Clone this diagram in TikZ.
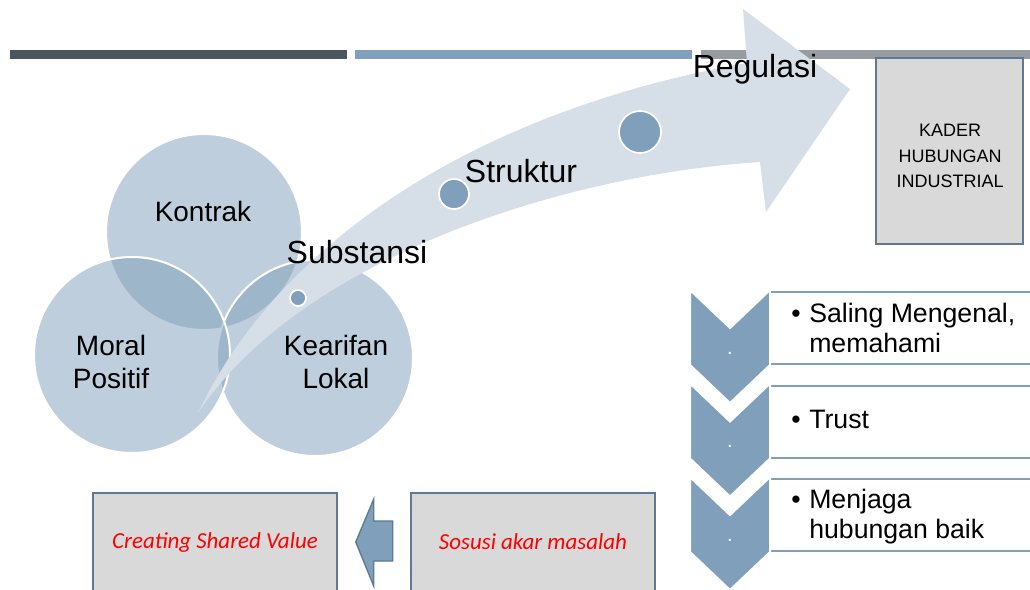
\documentclass[tikz,border=0pt]{standalone}
\usepackage{fontspec}
\setmainfont{Liberation Sans}
\newfontfamily\calfont{Carlito}
\usepackage{xcolor}
\definecolor{slate}{HTML}{7F9FBA}
\definecolor{slatedark}{HTML}{5F7A90}
\definecolor{bardark}{HTML}{4A575E}
\definecolor{bargray}{HTML}{979CA3}
\definecolor{arrowfill}{HTML}{D6DEE7}
\definecolor{boxgray}{HTML}{D9D9D9}

\begin{document}
\begin{tikzpicture}[x=0.75pt,y=-0.75pt,line join=miter,
  venn/.style={circle,minimum size=147pt,inner sep=0pt,fill=slate,fill opacity=0.5,draw=white,line width=1.5pt},
  vennlabel/.style={font=\fontsize{21}{25}\selectfont,align=center,inner sep=0pt},
  biglabel/.style={font=\fontsize{24}{28}\selectfont,inner sep=0pt},
  dot/.style={circle,inner sep=0pt,fill=slate,draw=white,line width=1.3pt},
  graybox/.style={rectangle,fill=boxgray,draw=slatedark,line width=1.1pt,inner sep=0pt},
  redtext/.style={font=\calfont\itshape\fontsize{17.2}{20}\selectfont,text=red},
  chevron/.style={fill=slate,draw=white,line width=1.5pt},
  listbox/.style={fill=white,draw=slate,line width=1.5pt},
  listtext/.style={font=\fontsize{20}{22.5}\selectfont,anchor=west,inner sep=0pt}]
\useasboundingbox (0,0) rectangle (1030,589);
\fill[white] (0,0) rectangle (1030,589);
% header bars
\fill[bardark] (10,50) rectangle (347,59);
\fill[slate] (355,50) rectangle (692,59);
\fill[bargray] (701,50) rectangle (1035,59);
% circles
\node[venn] (kontrak) at (204,232) {};
\node[venn] (kearifan) at (315,358) {};
\node[venn] (moral) at (132,355) {};
\node[vennlabel,anchor=base] (kontraktxt) at (203,221) {Kontrak};
\node[vennlabel] (moraltxt) at (111,362) {Moral\\Positif};
\node[vennlabel] (kearifantxt) at (336,362) {Kearifan\\Lokal};
% curved arrow
\fill[arrowfill] (198,413) .. controls (280,240) and (480,110) .. (747,63) -- (743,9) -- (850,89)
  -- (766,212) -- (760,162) .. controls (560,175) and (300,260) .. (198,413) -- cycle;
\node[dot,minimum size=12pt] (dsub) at (298,298) {};
\node[dot,minimum size=22.5pt] (dstr) at (454,194) {};
\node[dot,minimum size=31.5pt] (dreg) at (640,132) {};
\node[biglabel,anchor=base] (substansi) at (357,263) {Substansi};
\node[biglabel,anchor=base] (struktur) at (521,182) {Struktur};
\node[biglabel,anchor=base] (regulasi) at (755,77) {Regulasi};
% kader box
\node[graybox,minimum width=110pt,minimum height=139.5pt] (kader) at (949.5,151) {};
\node[align=center,inner sep=0pt,font=\fontsize{13.5}{19}\selectfont] (kadertxt) at (950,156) {KADER\\HUBUNGAN\\INDUSTRIAL};
% chevron list
\foreach \t in {290,383.5,477}{
  \draw[listbox] (770,\t+2) rectangle (1040,\t+74);
  \draw[chevron] (690,\t) -- (730,\t+38) -- (770,\t) -- (770,\t+75) -- (730,\t+113) -- (690,\t+75) -- cycle;
  \node[text=white,font=\fontsize{15}{17}\selectfont,anchor=base,inner sep=0pt] (pt\t) at (730,\t+64) {.};
}
\node[listtext] (item1) at (791,331) {\begin{tabular}{@{}l@{\hspace{6.5pt}}l@{}}\textbullet & Saling Mengenal,\\ & memahami\end{tabular}};
\node[listtext] (item2) at (791,422) {\begin{tabular}{@{}l@{\hspace{6.5pt}}l@{}}\textbullet & Trust\end{tabular}};
\node[listtext] (item3) at (791,517) {\begin{tabular}{@{}l@{\hspace{6.5pt}}l@{}}\textbullet & Menjaga\\ & hubungan baik\end{tabular}};
% bottom boxes
\node[graybox,minimum width=183pt,minimum height=73.5pt,redtext] (csv) at (215,542) {Creating Shared Value};
\node[graybox,minimum width=183pt,minimum height=73.5pt,redtext] (sosusi) at (533,542) {Sosusi akar masalah};
\draw[fill=slate,draw=slatedark,line width=1pt] (csv.east) ++(18,0) -- ++(18,-43) -- ++(0,22) -- ++(19,0)
  -- ++(0,40) -- ++(-19,0) -- ++(0,25) -- cycle;
\end{tikzpicture}
\end{document}
